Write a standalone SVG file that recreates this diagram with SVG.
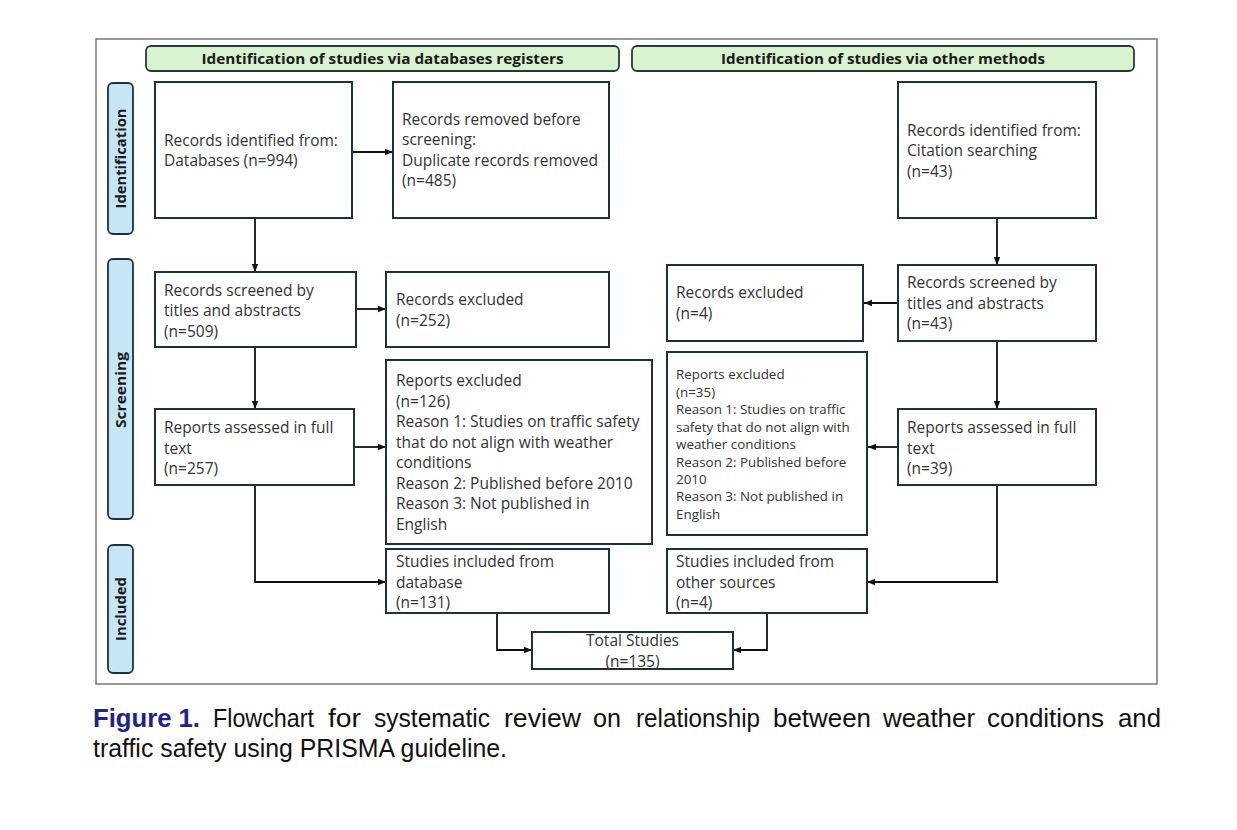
<svg xmlns="http://www.w3.org/2000/svg" width="1237" height="830" viewBox="0 0 1237 830">
<defs>
<style>
.box{fill:#fff;stroke:#1d3140;stroke-width:2}
.hdr{fill:#d9f2d0;stroke:#263a3a;stroke-width:1.8}
.side{fill:#c6e6f6;stroke:#1d3140;stroke-width:1.8}
.t{font-family:"Open Sans","Liberation Sans",sans-serif;font-size:15.5px;fill:#333}
.ts{font-family:"Open Sans","Liberation Sans",sans-serif;font-size:13.4px;fill:#333}
.hb{font-family:"Open Sans","Liberation Sans",sans-serif;font-size:14px;font-weight:bold;fill:#1a1a1a;text-anchor:middle}
.sb{font-family:"Open Sans","Liberation Sans",sans-serif;font-size:14.5px;font-weight:bold;fill:#1a1a1a;text-anchor:middle}
.cap{font-family:"Liberation Sans",sans-serif;font-size:25px;fill:#111}
.conn{fill:none;stroke:#111;stroke-width:1.8}
</style>
<marker id="ah" viewBox="0 0 8 8" refX="8" refY="4" markerWidth="8" markerHeight="8" markerUnits="userSpaceOnUse" orient="auto">
<path d="M0,0.8 L8,4 L0,7.2 Z" fill="#111"/>
</marker>
</defs>
<rect x="0" y="0" width="1237" height="830" fill="#fff"/>
<rect x="96" y="39" width="1061" height="645" fill="#fff" stroke="#777" stroke-width="1.5"/>

<g id="header-db">
<rect class="hdr" x="146" y="46" width="473" height="25" rx="5"/>
<text class="hb" x="382.5" y="64" textLength="362" lengthAdjust="spacingAndGlyphs">Identification of studies via databases registers</text>
</g>
<g id="header-other">
<rect class="hdr" x="632" y="46" width="502" height="25" rx="5"/>
<text class="hb" x="883" y="64" textLength="324" lengthAdjust="spacingAndGlyphs">Identification of studies via other methods</text>
</g>

<g id="side-identification">
<rect class="side" x="108" y="83" width="25" height="151" rx="5"/>
<text class="sb" transform="translate(125.5,158.5) rotate(-90)" textLength="100" lengthAdjust="spacingAndGlyphs">Identification</text>
</g>
<g id="side-screening">
<rect class="side" x="108" y="259" width="25" height="260" rx="5"/>
<text class="sb" transform="translate(125.5,390) rotate(-90)" textLength="76" lengthAdjust="spacingAndGlyphs">Screening</text>
</g>
<g id="side-included">
<rect class="side" x="108" y="545" width="25" height="128" rx="5"/>
<text class="sb" transform="translate(125.5,609) rotate(-90)" textLength="64" lengthAdjust="spacingAndGlyphs">Included</text>
</g>

<g id="connectors">
<path class="conn" d="M255,218 V272" marker-end="url(#ah)"/>
<path class="conn" d="M352,152 H393" marker-end="url(#ah)"/>
<path class="conn" d="M356,309 H386" marker-end="url(#ah)"/>
<path class="conn" d="M255,347 V409" marker-end="url(#ah)"/>
<path class="conn" d="M354,447 H386" marker-end="url(#ah)"/>
<path class="conn" d="M255,485 V582 H386" marker-end="url(#ah)"/>
<path class="conn" d="M997,218 V265" marker-end="url(#ah)"/>
<path class="conn" d="M898,303 H864" marker-end="url(#ah)"/>
<path class="conn" d="M997,341 V409" marker-end="url(#ah)"/>
<path class="conn" d="M898,447 H868" marker-end="url(#ah)"/>
<path class="conn" d="M997,485 V582 H867" marker-end="url(#ah)"/>
<path class="conn" d="M497,613 V650 H532" marker-end="url(#ah)"/>
<path class="conn" d="M767,613 V650 H733" marker-end="url(#ah)"/>
</g>

<g id="records-databases">
<rect class="box" x="155" y="82" width="197" height="136"/>
<text class="t" x="164" y="145.5">Records identified from:</text>
<text class="t" x="164" y="166">Databases (n=994)</text>
</g>
<g id="records-removed">
<rect class="box" x="393" y="82" width="216" height="136"/>
<text class="t" x="402" y="124.5">Records removed before</text>
<text class="t" x="402" y="145">screening:</text>
<text class="t" x="402" y="165.5">Duplicate records removed</text>
<text class="t" x="402" y="186">(n=485)</text>
</g>
<g id="records-citation">
<rect class="box" x="898" y="82" width="198" height="136"/>
<text class="t" x="907" y="135.5">Records identified from:</text>
<text class="t" x="907" y="156">Citation searching</text>
<text class="t" x="907" y="176.5">(n=43)</text>
</g>
<g id="screened-db">
<rect class="box" x="155" y="272" width="201" height="75"/>
<text class="t" x="164" y="295.5">Records screened by</text>
<text class="t" x="164" y="316">titles and abstracts</text>
<text class="t" x="164" y="336.5">(n=509)</text>
</g>
<g id="excluded-db">
<rect class="box" x="386" y="272" width="223" height="75"/>
<text class="t" x="396" y="304.5">Records excluded</text>
<text class="t" x="396" y="325.5">(n=252)</text>
</g>
<g id="excluded-other">
<rect class="box" x="667" y="265" width="196" height="76"/>
<text class="t" x="676" y="297.5">Records excluded</text>
<text class="t" x="676" y="318.5">(n=4)</text>
</g>
<g id="screened-other">
<rect class="box" x="898" y="265" width="198" height="76"/>
<text class="t" x="907" y="288">Records screened by</text>
<text class="t" x="907" y="308.5">titles and abstracts</text>
<text class="t" x="907" y="329">(n=43)</text>
</g>
<g id="assessed-db">
<rect class="box" x="155" y="409" width="199" height="76"/>
<text class="t" x="164" y="433">Reports assessed in full</text>
<text class="t" x="164" y="453.5">text</text>
<text class="t" x="164" y="474">(n=257)</text>
</g>
<g id="reports-excluded-db">
<rect class="box" x="386" y="360" width="266" height="184"/>
<text class="t" x="396" y="386">Reports excluded</text>
<text class="t" x="396" y="406.5">(n=126)</text>
<text class="t" x="396" y="427">Reason 1: Studies on traffic safety</text>
<text class="t" x="396" y="447.5">that do not align with weather</text>
<text class="t" x="396" y="468">conditions</text>
<text class="t" x="396" y="488.5">Reason 2: Published before 2010</text>
<text class="t" x="396" y="509">Reason 3: Not published in</text>
<text class="t" x="396" y="529.5">English</text>
</g>
<g id="reports-excluded-other">
<rect class="box" x="667" y="352" width="200" height="183"/>
<text class="ts" x="676" y="379">Reports excluded</text>
<text class="ts" x="676" y="396.5">(n=35)</text>
<text class="ts" x="676" y="414">Reason 1: Studies on traffic</text>
<text class="ts" x="676" y="431.5">safety that do not align with</text>
<text class="ts" x="676" y="449">weather conditions</text>
<text class="ts" x="676" y="466.5">Reason 2: Published before</text>
<text class="ts" x="676" y="483.5">2010</text>
<text class="ts" x="676" y="501">Reason 3: Not published in</text>
<text class="ts" x="676" y="518.5">English</text>
</g>
<g id="assessed-other">
<rect class="box" x="898" y="409" width="198" height="76"/>
<text class="t" x="907" y="433">Reports assessed in full</text>
<text class="t" x="907" y="453.5">text</text>
<text class="t" x="907" y="474">(n=39)</text>
</g>
<g id="included-db">
<rect class="box" x="386" y="549" width="223" height="64"/>
<text class="t" x="396" y="567">Studies included from</text>
<text class="t" x="396" y="587.5">database</text>
<text class="t" x="396" y="608">(n=131)</text>
</g>
<g id="included-other">
<rect class="box" x="667" y="549" width="200" height="64"/>
<text class="t" x="676" y="567">Studies included from</text>
<text class="t" x="676" y="587.5">other sources</text>
<text class="t" x="676" y="608">(n=4)</text>
</g>
<g id="total">
<rect class="box" x="532" y="632" width="201" height="37"/>
<text class="t" x="632.5" y="646" text-anchor="middle" textLength="93" lengthAdjust="spacingAndGlyphs">Total Studies</text>
<text class="t" x="632.5" y="666.5" text-anchor="middle">(n=135)</text>
</g>

<g id="caption">
<text class="cap" x="93" y="727" textLength="107" lengthAdjust="spacingAndGlyphs" font-weight="bold" style="fill:#22228a">Figure 1.</text>
<text class="cap" x="213" y="727" textLength="101" lengthAdjust="spacingAndGlyphs">Flowchart</text>
<text class="cap" x="328" y="727" textLength="33" lengthAdjust="spacingAndGlyphs">for</text>
<text class="cap" x="374" y="727" textLength="116" lengthAdjust="spacingAndGlyphs">systematic</text>
<text class="cap" x="504" y="727" textLength="77" lengthAdjust="spacingAndGlyphs">review</text>
<text class="cap" x="593" y="727" textLength="28" lengthAdjust="spacingAndGlyphs">on</text>
<text class="cap" x="636" y="727" textLength="124" lengthAdjust="spacingAndGlyphs">relationship</text>
<text class="cap" x="773" y="727" textLength="98" lengthAdjust="spacingAndGlyphs">between</text>
<text class="cap" x="883" y="727" textLength="92" lengthAdjust="spacingAndGlyphs">weather</text>
<text class="cap" x="987" y="727" textLength="117" lengthAdjust="spacingAndGlyphs">conditions</text>
<text class="cap" x="1118" y="727" textLength="43" lengthAdjust="spacingAndGlyphs">and</text>
<text class="cap" x="93" y="757" textLength="414" lengthAdjust="spacingAndGlyphs">traffic safety using PRISMA guideline.</text>
</g>
</svg>
